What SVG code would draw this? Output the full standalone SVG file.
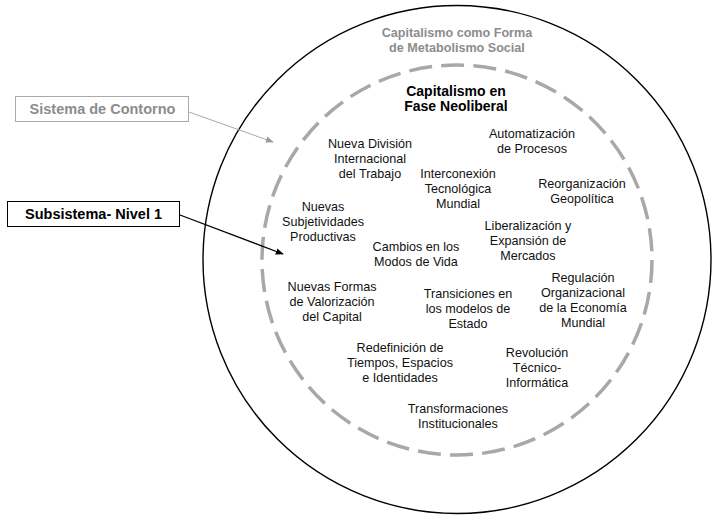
<svg xmlns="http://www.w3.org/2000/svg" width="715" height="515" viewBox="0 0 715 515">
<defs>
<style>
text{font-family:"Liberation Sans",Arial,sans-serif;text-anchor:middle}
.t{font-size:12.6px;fill:#111}
.g{font-size:12.6px;font-weight:bold;fill:#8c8c8c}
.b{font-size:14px;font-weight:bold;fill:#000}
.lbl{font-size:14.5px;font-weight:bold}
</style>
<marker id="ag" viewBox="0 0 10 10" refX="9" refY="5" markerWidth="8" markerHeight="8" markerUnits="userSpaceOnUse" orient="auto"><path d="M0,1 L10,5 L0,9 z" fill="#999"/></marker>
<marker id="ab" viewBox="0 0 10 10" refX="9" refY="5" markerWidth="8" markerHeight="8" markerUnits="userSpaceOnUse" orient="auto"><path d="M0,1 L10,5 L0,9 z" fill="#000"/></marker>
</defs>
<rect width="715" height="515" fill="#fff"/>
<g id="outer">
<circle cx="457" cy="259.5" r="254" fill="none" stroke="#000" stroke-width="1.4"/>
<text class="g" x="457" y="37">Capitalismo como Forma</text>
<text class="g" x="457" y="52">de Metabolismo Social</text>
</g>
<g id="inner">
<circle cx="457" cy="260" r="195" fill="none" stroke="#a8a8a8" stroke-width="3.5" stroke-dasharray="23 9.24"/>
<text class="b" x="456" y="96">Capitalismo en</text>
<text class="b" x="456" y="111">Fase Neoliberal</text>
</g>
<g id="sistema-contorno">
<rect x="15.5" y="96.5" width="173" height="25" fill="#fff" stroke="#aaa" stroke-width="1"/>
<text class="lbl" x="102.5" y="114" fill="#8c8c8c">Sistema de Contorno</text>
</g>
<g id="subsistema">
<rect x="7.5" y="201.5" width="172" height="25" fill="#fff" stroke="#000" stroke-width="1"/>
<text class="lbl" x="93.5" y="219" fill="#000">Subsistema- Nivel 1</text>
</g>
<g id="connectors">
<line x1="189" y1="112" x2="273" y2="142" stroke="#a8a8a8" stroke-width="1" marker-end="url(#ag)"/>
<line x1="180" y1="215" x2="283" y2="254" stroke="#000" stroke-width="1.3" marker-end="url(#ab)"/>
</g>
<g id="n1"><text class="t" x="370" y="148">Nueva División</text><text class="t" x="370" y="163">Internacional</text><text class="t" x="370" y="178">del Trabajo</text></g>
<g id="n2"><text class="t" x="532" y="138">Automatización</text><text class="t" x="532" y="153">de Procesos</text></g>
<g id="n3"><text class="t" x="458" y="178">Interconexión</text><text class="t" x="458" y="193">Tecnológica</text><text class="t" x="458" y="208">Mundial</text></g>
<g id="n4"><text class="t" x="582" y="188">Reorganización</text><text class="t" x="582" y="203">Geopolítica</text></g>
<g id="n5"><text class="t" x="323" y="211">Nuevas</text><text class="t" x="323" y="226">Subjetividades</text><text class="t" x="323" y="241">Productivas</text></g>
<g id="n6"><text class="t" x="528" y="230">Liberalización y</text><text class="t" x="528" y="245">Expansión de</text><text class="t" x="528" y="260">Mercados</text></g>
<g id="n7"><text class="t" x="416" y="251">Cambios en los</text><text class="t" x="416" y="266">Modos de Vida</text></g>
<g id="n8"><text class="t" x="583" y="282">Regulación</text><text class="t" x="583" y="297">Organizacional</text><text class="t" x="583" y="312">de la Economía</text><text class="t" x="583" y="327">Mundial</text></g>
<g id="n9"><text class="t" x="332" y="291">Nuevas Formas</text><text class="t" x="332" y="306">de Valorización</text><text class="t" x="332" y="321">del Capital</text></g>
<g id="n10"><text class="t" x="468" y="298">Transiciones en</text><text class="t" x="468" y="313">los modelos de</text><text class="t" x="468" y="328">Estado</text></g>
<g id="n11"><text class="t" x="400" y="352">Redefinición de</text><text class="t" x="400" y="367">Tiempos, Espacios</text><text class="t" x="400" y="382">e Identidades</text></g>
<g id="n12"><text class="t" x="537" y="357">Revolución</text><text class="t" x="537" y="372">Técnico-</text><text class="t" x="537" y="387">Informática</text></g>
<g id="n13"><text class="t" x="458" y="413">Transformaciones</text><text class="t" x="458" y="428">Institucionales</text></g>
</svg>
